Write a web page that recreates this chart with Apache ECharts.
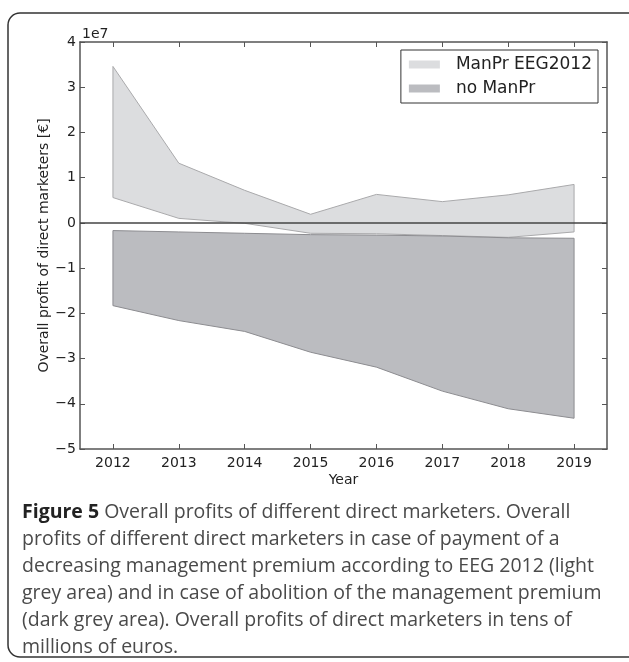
<!DOCTYPE html>
<html>
<head>
<meta charset="utf-8">
<script src="https://cdn.jsdelivr.net/npm/echarts@6/dist/echarts.min.js"></script>
<style>
  html, body { margin: 0; padding: 0; background: #fff; }
  #chart { width: 629px; height: 662px; }
</style>
</head>
<body>
<div id="chart"></div>
<script>
// years on the x axis
var years = ['2012', '2013', '2014', '2015', '2016', '2017', '2018', '2019'];

// overall profit, in units of 1e7 euros
var manPrUpper = [3.46, 1.32, 0.72, 0.19, 0.63, 0.47, 0.62, 0.85];
var manPrLower = [0.56, 0.10, -0.01, -0.23, -0.24, -0.28, -0.32, -0.20];
var noManPrUpper = [-0.17, -0.20, -0.23, -0.26, -0.27, -0.29, -0.33, -0.34];
var noManPrLower = [-1.83, -2.16, -2.40, -2.86, -3.19, -3.72, -4.11, -4.32];

var yTicks = [-5, -4, -3, -2, -1, 0, 1, 2, 3, 4];

var captionLines = [
  'Overall profits of different direct marketers. Overall',
  'profits of different direct marketers in case of payment of a',
  'decreasing management premium according to EEG 2012 (light',
  'grey area) and in case of abolition of the management premium',
  '(dark grey area). Overall profits of direct marketers in tens of',
  'millions of euros.'
];

var tickFont = 'DejaVu Sans';
var capFont = '"Open Sans", "Noto Sans", sans-serif';

// polygon between upper and lower curve, like fill_between
function band(upper, lower, fill, edge) {
  return function (params, api) {
    var pts = [];
    for (var i = 0; i < upper.length; i++) pts.push(api.coord([i, upper[i]]));
    for (var j = lower.length - 1; j >= 0; j--) pts.push(api.coord([j, lower[j]]));
    return {
      type: 'polygon',
      shape: { points: pts },
      style: { fill: fill, stroke: edge, lineWidth: 1 }
    };
  };
}

function axisX(pos, showLabel) {
  return {
    type: 'category',
    data: years,
    position: pos,
    boundaryGap: true,
    axisLine: { show: true, onZero: false, lineStyle: { color: '#555', width: 1.5 } },
    axisTick: { show: true, alignWithLabel: true, inside: true, length: 5, lineStyle: { color: '#555', width: 1 } },
    axisLabel: { show: showLabel, fontSize: 14, color: '#222', fontFamily: tickFont, margin: 7 },
    splitLine: { show: false }
  };
}

function axisY(pos, showLabel) {
  return {
    type: 'value',
    position: pos,
    min: yTicks[0],
    max: yTicks[yTicks.length - 1],
    interval: 1,
    axisLine: { show: true, onZero: false, lineStyle: { color: '#555', width: 1.5 } },
    axisTick: { show: true, inside: true, length: 5, lineStyle: { color: '#555', width: 1 } },
    axisLabel: {
      show: showLabel, fontSize: 14, color: '#222', fontFamily: tickFont, margin: 4,
      formatter: function (v) { return String(v).replace('-', '\u2212'); }
    },
    splitLine: { show: false }
  };
}

var xMain = axisX('bottom', true);
xMain.name = 'Year';
xMain.nameLocation = 'middle';
xMain.nameGap = 24;
xMain.nameMoveOverlap = false;
xMain.nameTextStyle = { fontSize: 14, color: '#222', fontFamily: tickFont };

var yMain = axisY('left', true);
yMain.name = 'Overall profit of direct marketers [€]';
yMain.nameLocation = 'middle';
yMain.nameGap = 29;
yMain.nameMoveOverlap = false;
yMain.nameTextStyle = { fontSize: 14, color: '#222', fontFamily: tickFont };

var graphics = [
  {
    type: 'rect',
    shape: { x: 8, y: 13, width: 640, height: 644, r: 12 },
    style: { fill: 'none', stroke: '#333', lineWidth: 1.5 },
    silent: true
  },
  {
    type: 'text',
    x: 82, y: 27,
    style: { text: '1e7', font: '14px "DejaVu Sans"', fill: '#222' }
  }
];

captionLines.forEach(function (line, i) {
  graphics.push({
    type: 'text',
    x: 22,
    y: 502 + i * 27,
    style: i === 0 ? {
      text: '{b|Figure 5} ' + line,
      rich: { b: { fontWeight: 'bold', fill: '#222', fontSize: 19.5, fontFamily: capFont } },
      fontSize: 19.5, fontFamily: capFont, fill: '#4a4a4a'
    } : {
      text: line, fontSize: 19.5, fontFamily: capFont, fill: '#4a4a4a'
    }
  });
});

var chart = echarts.init(document.getElementById('chart'));
chart.setOption({
  animation: false,
  grid: { left: 80, right: 22, top: 42, bottom: 213 },
  xAxis: [xMain, axisX('top', false)],
  yAxis: [yMain, axisY('right', false)],
  legend: {
    data: ['ManPr EEG2012', 'no ManPr'],
    orient: 'vertical',
    right: 31,
    top: 50,
    icon: 'rect',
    itemWidth: 31,
    itemHeight: 8,
    itemGap: 7,
    padding: [6, 6, 6, 8],
    borderColor: '#333',
    borderWidth: 1,
    textStyle: { fontSize: 17, color: '#222', fontFamily: tickFont, padding: [0, 0, 0, 11] }
  },
  graphic: graphics,
  series: [
    {
      type: 'custom',
      name: 'ManPr EEG2012',
      data: [0],
      itemStyle: { color: '#dcdddf' },
      renderItem: band(manPrUpper, manPrLower, '#dcdddf', '#a9a9ab')
    },
    {
      type: 'custom',
      name: 'no ManPr',
      data: [0],
      itemStyle: { color: '#bbbcc0' },
      renderItem: band(noManPrUpper, noManPrLower, '#bbbcc0', '#8c8c90')
    },
    {
      type: 'line',
      name: 'zero',
      data: [],
      markLine: {
        silent: true,
        symbol: 'none',
        label: { show: false },
        lineStyle: { color: '#444', width: 1.5, type: 'solid' },
        data: [{ yAxis: 0 }]
      }
    }
  ]
});
</script>
</body>
</html>
